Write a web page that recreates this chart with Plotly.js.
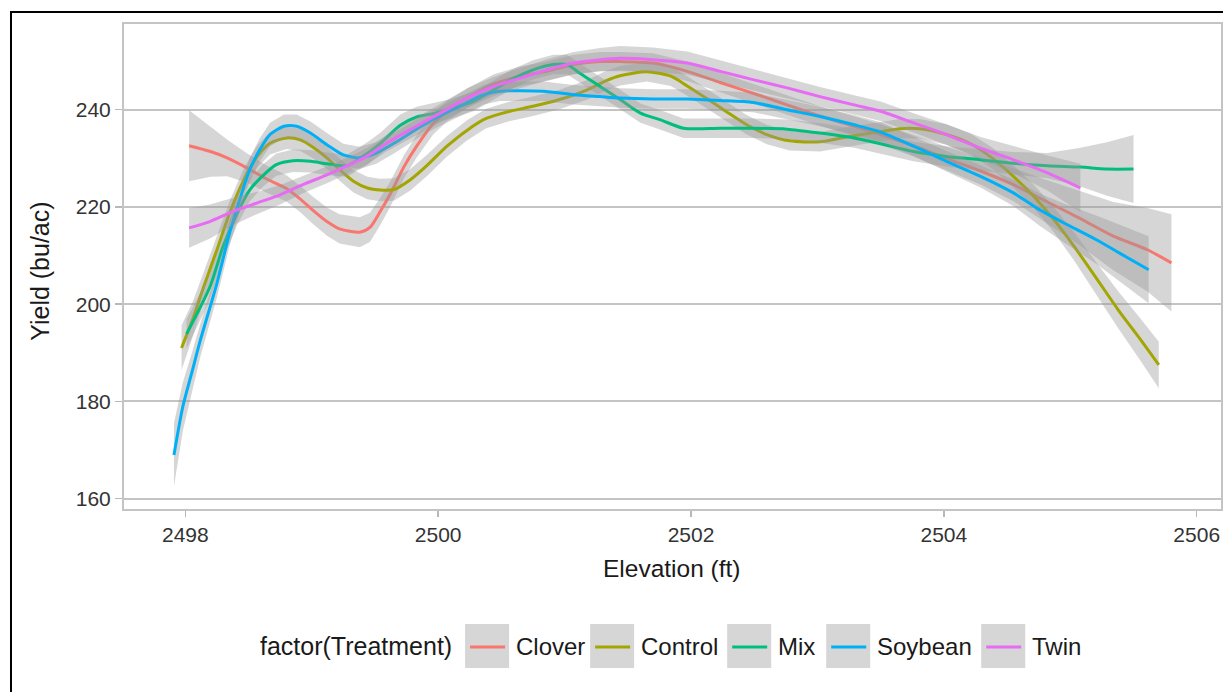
<!DOCTYPE html>
<html>
<head>
<meta charset="utf-8">
<script src="https://cdn.plot.ly/plotly-3.0.1.min.js"></script>
<style>
html,body{margin:0;padding:0;background:#fff;}
#wrap{position:relative;width:1223px;height:692px;overflow:hidden;}
#chart{position:absolute;left:0;top:0;width:1223px;height:692px;}
#frame{position:absolute;left:10px;top:11px;width:3000px;height:3000px;border-left:2px solid #000;border-top:2px solid #000;pointer-events:none;}
</style>
</head>
<body>
<div id="wrap"><div id="chart"></div><div id="frame"></div></div>
<script>
// ---------------- data ----------------
const treatments = ["Clover", "Control", "Mix", "Soybean", "Twin"];
const legendTitle = "factor(Treatment)";
const xTitle = "Elevation (ft)";
const yTitle = "Yield (bu/ac)";
const xTicks = [2498, 2500, 2502, 2504, 2506];
const yTicks = [160, 180, 200, 220, 240];

const xClover = [2498.03, 2498.20, 2498.33, 2498.49, 2498.64, 2498.80, 2498.91, 2499.01, 2499.12, 2499.22,
  2499.38, 2499.46, 2499.54, 2499.62, 2499.73, 2499.83, 2499.96, 2500.07, 2500.25, 2500.44,
  2500.65, 2500.86, 2501.07, 2501.28, 2501.44, 2501.70, 2501.97, 2502.23, 2502.49, 2502.76,
  2503.02, 2503.29, 2503.50, 2503.76, 2504.02, 2504.29, 2504.55, 2504.76, 2505.08, 2505.34,
  2505.61, 2505.80];
const yClover = [232.6, 231.4, 230.1, 228.0, 225.8, 223.8, 221.6, 219.3, 217.0, 215.5,
  214.8, 215.8, 219.0, 222.6, 228.3, 232.5, 237.1, 239.7, 242.7, 245.3,
  246.9, 247.9, 249.3, 249.9, 249.9, 249.6, 247.9, 245.6, 243.4, 241.0,
  238.7, 236.6, 234.9, 232.6, 230.0, 227.4, 224.6, 221.8, 217.6, 214.0,
  211.2, 208.5];
const ciClover = [7.3, 5.2, 3.8, 3.0, 2.8, 2.7, 2.7, 2.8, 2.9, 3.0,
  3.1, 3.0, 2.8, 2.6, 2.4, 2.3, 2.2, 2.1, 2.0, 2.0,
  2.0, 2.0, 2.0, 2.0, 2.0, 2.0, 2.0, 2.0, 2.0, 2.0,
  2.0, 2.0, 2.1, 2.2, 2.4, 2.8, 3.4, 4.2, 5.6, 7.0,
  8.6, 10.0];

const xControl = [2497.97, 2498.06, 2498.14, 2498.25, 2498.35, 2498.46, 2498.57, 2498.67, 2498.80, 2498.91,
  2499.01, 2499.12, 2499.22, 2499.33, 2499.44, 2499.54, 2499.65, 2499.78, 2499.91, 2500.07,
  2500.23, 2500.38, 2500.57, 2500.75, 2500.96, 2501.18, 2501.33, 2501.44, 2501.65, 2501.84,
  2501.97, 2502.13, 2502.28, 2502.44, 2502.60, 2502.78, 2503.02, 2503.23, 2503.50, 2503.65,
  2503.81, 2504.02, 2504.21, 2504.39, 2504.55, 2504.71, 2504.87, 2505.03, 2505.21, 2505.38,
  2505.55, 2505.70];
const yControl = [191.0, 197.0, 203.2, 211.2, 218.7, 225.4, 230.4, 233.1, 234.2, 233.8,
  232.3, 230.1, 227.7, 225.3, 223.9, 223.5, 223.6, 225.6, 228.5, 232.5,
  235.8, 238.2, 239.7, 240.7, 242.1, 244.1, 246.0, 247.0, 247.8, 246.9,
  244.9, 242.2, 239.6, 236.9, 234.9, 233.6, 233.4, 234.4, 235.5, 236.1,
  236.1, 234.9, 233.0, 229.9, 226.3, 222.2, 217.4, 211.9, 205.2, 198.8,
  192.9, 187.5];
const ciControl = [4.6, 3.6, 3.0, 2.7, 2.5, 2.4, 2.3, 2.3, 2.3, 2.3,
  2.3, 2.3, 2.3, 2.3, 2.3, 2.3, 2.3, 2.2, 2.2, 2.1,
  2.1, 2.0, 2.0, 2.0, 2.0, 2.0, 2.0, 2.0, 2.0, 2.0,
  2.0, 2.0, 2.0, 2.0, 2.0, 2.0, 2.0, 2.0, 2.0, 2.0,
  2.0, 2.1, 2.1, 2.2, 2.3, 2.4, 2.6, 2.9, 3.3, 3.8,
  4.3, 4.8];

const xMix = [2498.01, 2498.195, 2498.30, 2498.41, 2498.51, 2498.62, 2498.72, 2498.85, 2498.99, 2499.12,
  2499.28, 2499.44, 2499.54, 2499.70, 2499.83, 2499.96, 2500.12, 2500.28, 2500.44, 2500.60,
  2500.75, 2500.91, 2501.02, 2501.12, 2501.28, 2501.44, 2501.60, 2501.76, 2501.94, 2502.23,
  2502.49, 2502.76, 2503.02, 2503.29, 2503.50, 2503.76, 2504.02, 2504.29, 2504.55, 2504.82,
  2505.08, 2505.29, 2505.50];
const yMix = [193.9, 203.6, 211.9, 218.7, 223.5, 226.6, 228.7, 229.5, 229.4, 228.9,
  228.5, 231.0, 233.0, 236.8, 238.5, 239.2, 240.3, 241.7, 244.1, 246.5,
  248.2, 249.3, 249.3, 247.5, 244.8, 242.1, 239.3, 237.9, 236.2, 236.2,
  236.2, 236.0, 235.2, 234.2, 233.0, 231.4, 230.4, 229.7, 229.0, 228.5,
  228.2, 227.8, 227.8];
const ciMix = [3.0, 2.7, 2.5, 2.4, 2.3, 2.3, 2.3, 2.3, 2.3, 2.3,
  2.3, 2.3, 2.2, 2.2, 2.1, 2.1, 2.0, 2.0, 2.0, 2.0,
  2.0, 2.0, 2.0, 2.0, 2.0, 2.0, 2.0, 2.0, 2.0, 2.0,
  2.0, 2.0, 2.0, 2.0, 2.0, 2.0, 2.1, 2.2, 2.3, 2.6,
  4.0, 5.5, 7.0];

const xSoybean = [2497.91, 2497.98, 2498.05, 2498.12, 2498.25, 2498.35, 2498.43, 2498.51, 2498.59, 2498.67,
  2498.78, 2498.88, 2498.99, 2499.12, 2499.25, 2499.38, 2499.51, 2499.65, 2499.91, 2500.17,
  2500.36, 2500.49, 2500.83, 2501.07, 2501.28, 2501.44, 2501.70, 2501.97, 2502.23, 2502.49,
  2502.76, 2503.02, 2503.29, 2503.50, 2503.76, 2504.02, 2504.29, 2504.55, 2504.76, 2504.95,
  2505.21, 2505.39, 2505.62];
const ySoybean = [169.0, 178.9, 185.8, 192.7, 204.3, 214.6, 221.5, 227.7, 231.8, 234.9,
  236.6, 236.6, 235.2, 232.8, 230.7, 230.1, 231.1, 233.1, 237.3, 240.7,
  243.1, 243.8, 243.8, 243.1, 242.7, 242.4, 242.2, 242.2, 241.9, 241.5,
  240.0, 238.6, 236.9, 235.4, 232.5, 229.4, 226.3, 222.9, 219.4, 216.7,
  213.2, 210.5, 207.1];
const ciSoybean = [6.5, 5.0, 4.0, 3.4, 2.9, 2.6, 2.5, 2.4, 2.4, 2.4,
  2.4, 2.4, 2.4, 2.4, 2.3, 2.3, 2.2, 2.1, 2.0, 2.0,
  2.0, 2.0, 2.0, 2.0, 2.0, 2.0, 2.0, 2.0, 2.0, 2.0,
  2.0, 2.0, 2.0, 2.0, 2.0, 2.1, 2.3, 2.7, 3.3, 4.0,
  5.0, 5.9, 6.9];

const xTwin = [2498.03, 2498.195, 2498.38, 2498.565, 2498.75, 2498.93, 2499.12, 2499.30, 2499.435, 2499.59,
  2499.80, 2500.015, 2500.23, 2500.44, 2500.65, 2500.86, 2501.07, 2501.28, 2501.44, 2501.70,
  2501.97, 2502.23, 2502.49, 2502.76, 2503.02, 2503.29, 2503.50, 2503.76, 2504.02, 2504.29,
  2504.55, 2504.82, 2505.08];
const yTwin = [215.7, 217.0, 219.1, 220.8, 222.5, 224.6, 226.6, 228.7, 230.4, 233.1,
  236.2, 239.3, 242.4, 244.8, 246.5, 248.2, 249.6, 250.3, 250.6, 250.3,
  249.6, 247.9, 246.2, 244.5, 242.7, 241.0, 239.7, 237.3, 234.9, 232.1,
  229.7, 227.0, 223.9];
const ciTwin = [4.1, 3.5, 2.8, 2.3, 2.0, 1.8, 1.7, 1.7, 1.7, 1.7,
  1.8, 1.9, 2.0, 2.0, 2.1, 2.2, 2.3, 2.4, 2.5, 2.5,
  2.4, 2.3, 2.2, 2.1, 2.0, 2.0, 2.0, 2.0, 2.1, 2.3,
  2.8, 3.6, 5.0];

// ---------------- styles & layout constants ----------------
const colors = ["#F8766D", "#A3A500", "#00BF7D", "#00B0F6", "#E76BF3"];
const bandFill = "rgba(153,153,153,0.4)";
const FONT = "Liberation Sans, Arial, sans-serif";
const PL = 123, PR = 1221.7, PT = 23.3, PB = 510;   // panel edges in px
const fx = p => (p - PL) / (PR - PL);
const fy = p => (PB - p) / (PB - PT);
const legendBoxLeft = [465, 590, 727, 826, 981];
const legendBoxSize = 44, legendCY = 646;

const series = [
  {x: xClover, y: yClover, ci: ciClover},
  {x: xControl, y: yControl, ci: ciControl},
  {x: xMix, y: yMix, ci: ciMix},
  {x: xSoybean, y: ySoybean, ci: ciSoybean},
  {x: xTwin, y: yTwin, ci: ciTwin}
];

const traces = [];
series.forEach((s, i) => {
  const up = s.y.map((v, k) => v + s.ci[k]);
  const lo = s.y.map((v, k) => v - s.ci[k]);
  traces.push({
    type: "scatter", mode: "lines",
    x: s.x.concat(s.x.slice().reverse()),
    y: up.concat(lo.slice().reverse()),
    fill: "toself", fillcolor: bandFill,
    line: {width: 0, color: "rgba(0,0,0,0)"},
    hoverinfo: "skip", showlegend: false
  });
  traces.push({
    type: "scatter", mode: "lines", name: treatments[i],
    x: s.x, y: s.y,
    line: {color: colors[i], width: 3, shape: "spline", smoothing: 0.7},
    showlegend: false
  });
});

const shapes = [{
  type: "rect", xref: "paper", yref: "paper", x0: 0, x1: 1, y0: 0, y1: 1,
  line: {color: "#c4c4c4", width: 2}, fillcolor: "rgba(0,0,0,0)", layer: "below"
}];
const annotations = [
  {text: xTitle, xref: "paper", yref: "paper", x: fx(672), y: fy(568),
   xanchor: "center", yanchor: "middle", showarrow: false,
   font: {family: FONT, size: 24.5, color: "#1a1a1a"}},
  {text: yTitle, xref: "paper", yref: "paper", x: fx(40), y: fy(271),
   xanchor: "center", yanchor: "middle", showarrow: false, textangle: -90,
   font: {family: FONT, size: 25, color: "#1a1a1a"}},
  {text: legendTitle, xref: "paper", yref: "paper", x: fx(454), y: fy(legendCY),
   xanchor: "right", yanchor: "middle", showarrow: false,
   font: {family: FONT, size: 25, color: "#1a1a1a"}}
];
treatments.forEach((t, i) => {
  const L = legendBoxLeft[i];
  shapes.push({type: "rect", xref: "paper", yref: "paper",
    x0: fx(L), x1: fx(L + legendBoxSize), y0: fy(legendCY + legendBoxSize / 2), y1: fy(legendCY - legendBoxSize / 2),
    line: {width: 0}, fillcolor: "#d6d6d6"});
  shapes.push({type: "line", xref: "paper", yref: "paper",
    x0: fx(L + 5), x1: fx(L + 40), y0: fy(legendCY + 1), y1: fy(legendCY + 1),
    line: {color: colors[i], width: 3}});
  annotations.push({text: t, xref: "paper", yref: "paper", x: fx(L + legendBoxSize + 5), y: fy(legendCY),
    xanchor: "left", yanchor: "middle", showarrow: false,
    font: {family: FONT, size: 24, color: "#1a1a1a"}});
});

const layout = {
  width: 1223, height: 692,
  margin: {l: PL, r: 1223 - PR, t: PT, b: 692 - PB, pad: 0, autoexpand: false},
  paper_bgcolor: "#ffffff", plot_bgcolor: "#ffffff",
  showlegend: false,
  font: {family: FONT, color: "#333"},
  xaxis: {
    range: [2497.507, 2506.2], tickvals: xTicks, ticktext: xTicks.map(String),
    showgrid: false, zeroline: false, showline: false,
    ticks: "outside", ticklen: 6, tickwidth: 1.5, tickcolor: "#b8b8b8",
    tickfont: {family: FONT, size: 21, color: "#333"}
  },
  yaxis: {
    range: [157.67, 257.84], tickvals: yTicks, ticktext: yTicks.map(String),
    showgrid: true, gridcolor: "#c4c4c4", gridwidth: 2, zeroline: false, showline: false,
    ticks: "outside", ticklen: 7, tickwidth: 1.5, tickcolor: "#b8b8b8",
    tickfont: {family: FONT, size: 21, color: "#333"}
  },
  shapes: shapes,
  annotations: annotations
};

Plotly.newPlot("chart", traces, layout, {displayModeBar: false, staticPlot: true});
</script>
</body>
</html>
